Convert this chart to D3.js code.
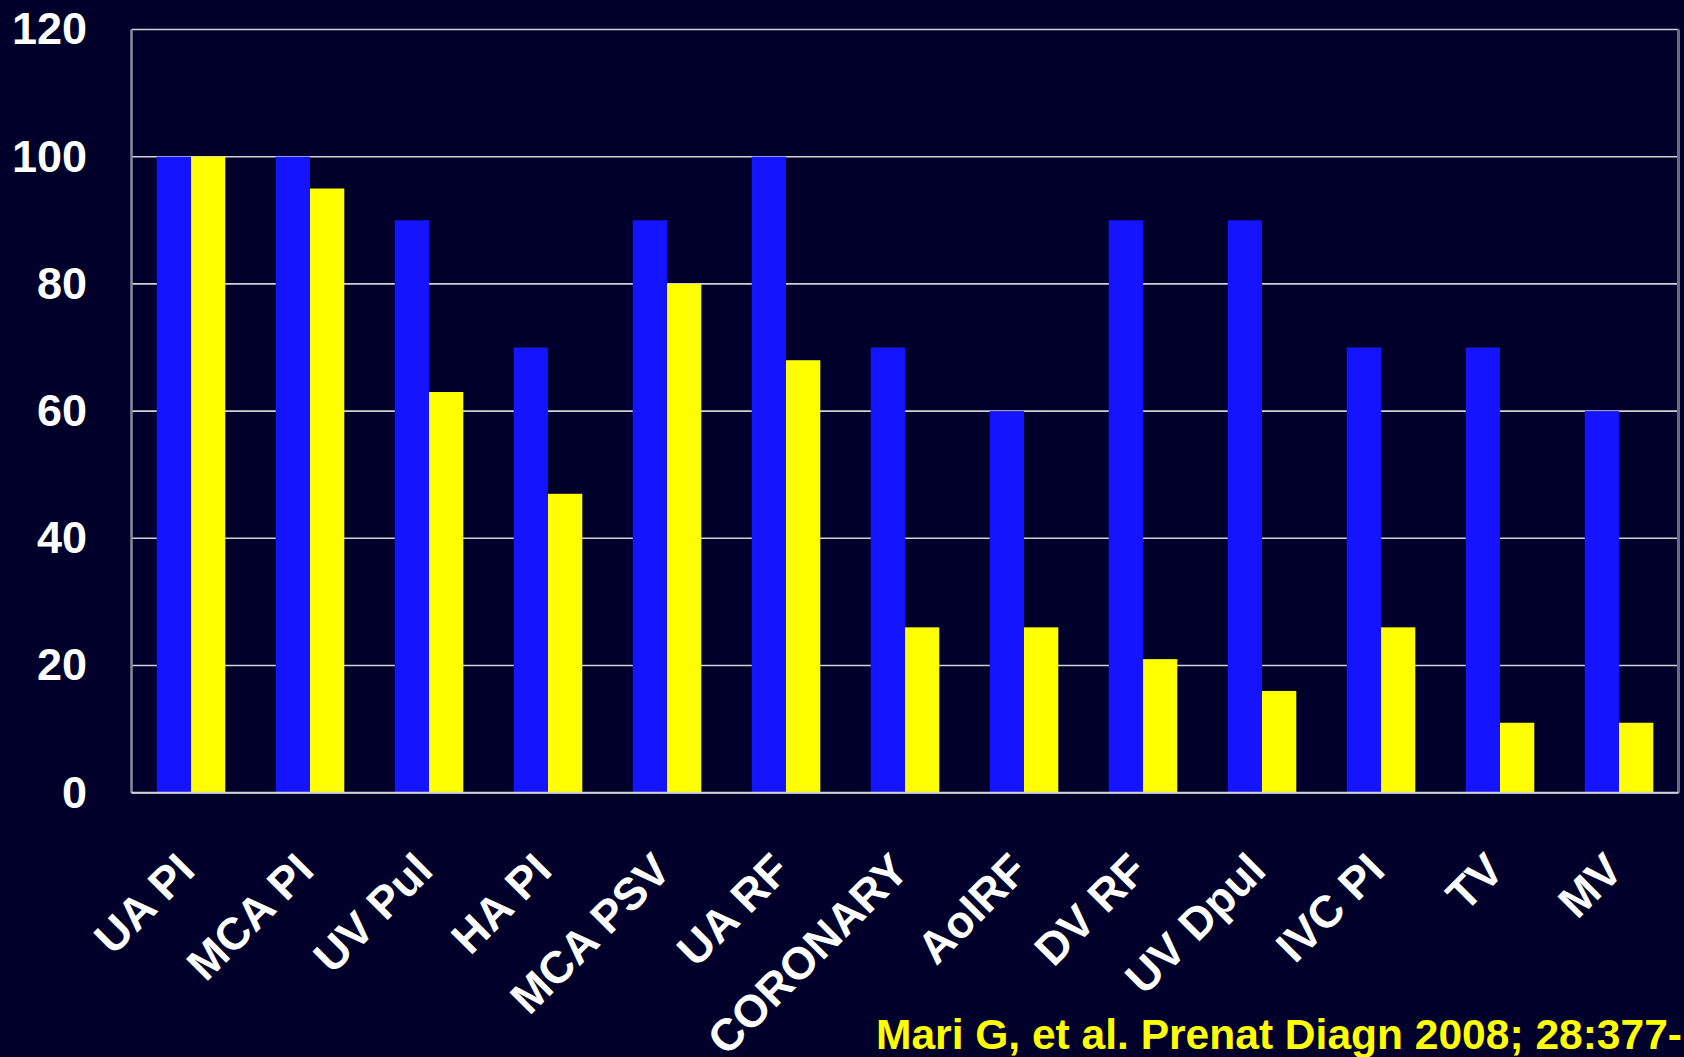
<!DOCTYPE html>
<html>
<head>
<meta charset="utf-8">
<script src="https://cdn.jsdelivr.net/npm/d3@7"></script>
<style>
  html, body { margin: 0; padding: 0; background: #00002a; }
  svg { display: block; }
  text { font-family: "Liberation Sans", Arial, sans-serif; font-weight: bold; }
</style>
</head>
<body>
<svg id="chart" width="1684" height="1057"></svg>
<script>
// Doppler parameters (x axis)
const categories = ["UA PI", "MCA PI", "UV Pul", "HA PI", "MCA PSV", "UA RF",
  "CORONARY", "AoIRF", "DV RF", "UV Dpul", "IVC PI", "TV", "MV"];
// first series (blue bars)
const seriesBlue = [100, 100, 90, 70, 90, 100, 70, 60, 90, 90, 70, 70, 60];
// second series (yellow bars)
const seriesYellow = [100, 95, 63, 47, 80, 68, 26, 26, 21, 16, 26, 11, 11];
// y axis ticks
const yTicks = [0, 20, 40, 60, 80, 100, 120];
const citation = "Mari G, et al. Prenat Diagn 2008; 28:377-";

const W = 1684, H = 1057;
const plot = { left: 131.5, right: 1678.5, top: 29.5, bottom: 792.7 };

const svg = d3.select("#chart");
svg.append("rect").attr("width", W).attr("height", H).attr("fill", "#00002a");

const x = d3.scaleBand().domain(categories).range([plot.left, plot.right]).padding(0);
const xs = d3.scaleBand().domain(["blue", "yellow"]).range([0, x.bandwidth()])
  .paddingInner(0).paddingOuter(0.735);
const y = d3.scaleLinear().domain([0, 120]).range([plot.bottom, plot.top]);

// horizontal gridlines
svg.append("g")
  .selectAll("line")
  .data(yTicks)
  .join("line")
  .attr("x1", plot.left).attr("x2", plot.right)
  .attr("y1", d => y(d)).attr("y2", d => y(d))
  .attr("stroke", "#d0d0d8").attr("stroke-width", 1.6);

// plot frame sides
svg.append("line")
  .attr("x1", plot.left).attr("x2", plot.left)
  .attr("y1", plot.top).attr("y2", plot.bottom)
  .attr("stroke", "#8a8aa0").attr("stroke-width", 2.5);
svg.append("line")
  .attr("x1", plot.right).attr("x2", plot.right)
  .attr("y1", plot.top).attr("y2", plot.bottom)
  .attr("stroke", "#6a6a88").attr("stroke-width", 3);

// bars
const rows = categories.map((c, i) => ({ c, blue: seriesBlue[i], yellow: seriesYellow[i] }));
const groups = svg.append("g").selectAll("g")
  .data(rows)
  .join("g")
  .attr("transform", d => `translate(${x(d.c)},0)`);

groups.append("rect")
  .attr("x", xs("blue")).attr("width", xs.bandwidth())
  .attr("y", d => y(d.blue)).attr("height", d => y(0) - y(d.blue))
  .attr("fill", "#1414ff");
groups.append("rect")
  .attr("x", xs("yellow")).attr("width", xs.bandwidth())
  .attr("y", d => y(d.yellow)).attr("height", d => y(0) - y(d.yellow))
  .attr("fill", "#ffff00");

// baseline
svg.append("line")
  .attr("x1", plot.left).attr("x2", plot.right)
  .attr("y1", y(0)).attr("y2", y(0))
  .attr("stroke", "#d0d0d8").attr("stroke-width", 2);

// y axis labels
const yAxis = svg.append("g")
  .attr("transform", `translate(${plot.left},0)`)
  .call(d3.axisLeft(y).tickValues(yTicks).tickSize(0).tickPadding(44.5));
yAxis.select(".domain").remove();
yAxis.selectAll("text")
  .attr("fill", "#ffffff")
  .style("font-size", "45px")
  .style("font-family", "'Liberation Sans', Arial, sans-serif")
  .style("font-weight", "bold");

// x axis labels, rotated
const xAxis = svg.append("g")
  .attr("transform", `translate(0,${plot.bottom})`)
  .call(d3.axisBottom(x).tickSize(0));
xAxis.select(".domain").remove();
xAxis.selectAll("text")
  .attr("fill", "#ffffff")
  .attr("x", 0).attr("y", 0).attr("dy", 0)
  .attr("text-anchor", "end")
  .attr("transform", "translate(6,80) rotate(-45)")
  .style("font-size", "45px")
  .style("font-family", "'Liberation Sans', Arial, sans-serif")
  .style("font-weight", "bold");

// citation
svg.append("text")
  .attr("x", 876).attr("y", 1049)
  .attr("fill", "#ffff00")
  .attr("textLength", 806)
  .attr("lengthAdjust", "spacingAndGlyphs")
  .style("font-size", "43px")
  .text(citation);
</script>
</body>
</html>
